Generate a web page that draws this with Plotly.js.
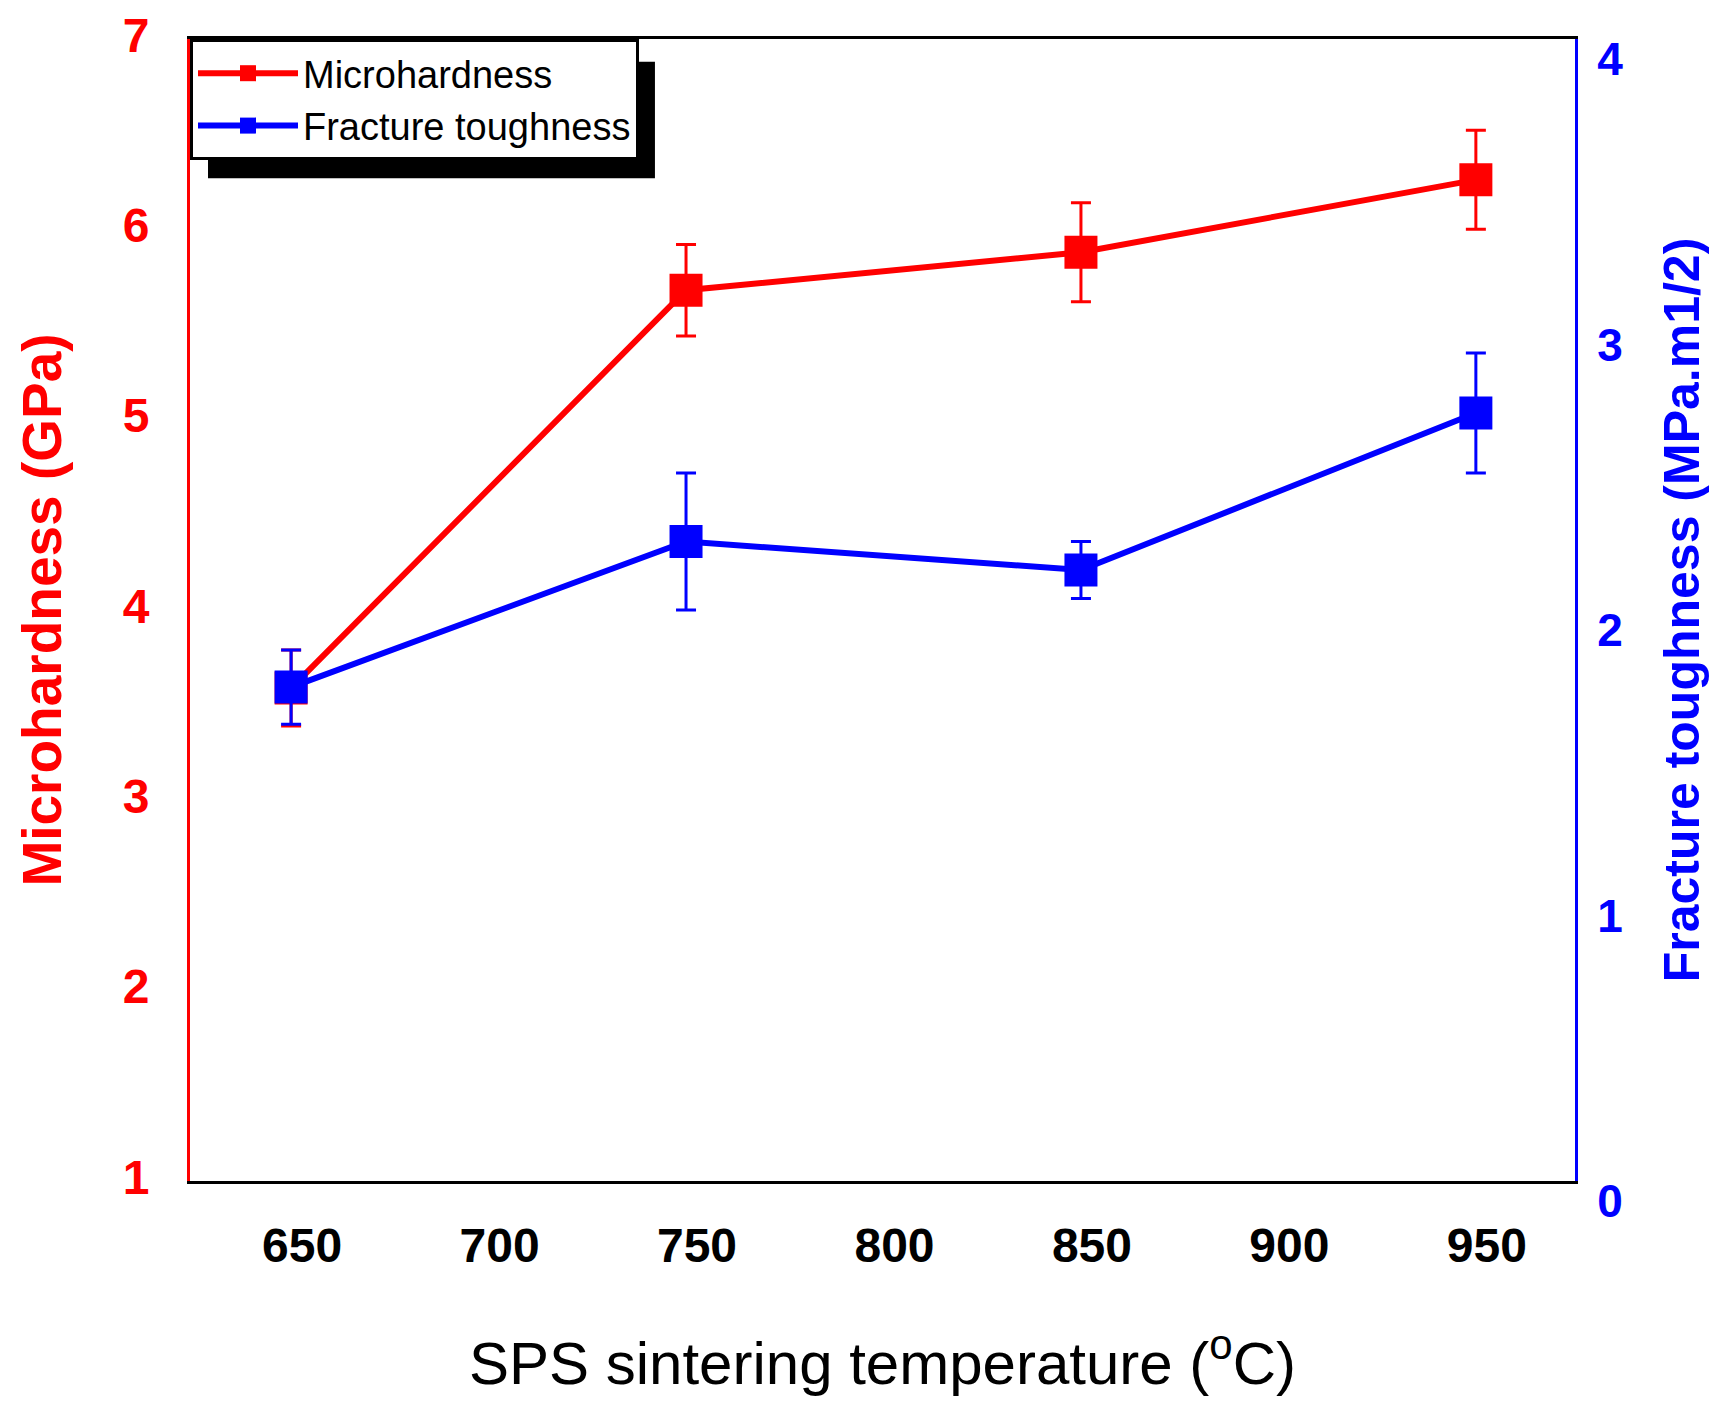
<!DOCTYPE html>
<html>
<head>
<meta charset="utf-8">
<script src="https://cdn.plot.ly/plotly-3.0.1.min.js"></script>
<style>
  html, body { margin: 0; padding: 0; background: #fff; }
  #chart { width: 1721px; height: 1416px; }
</style>
</head>
<body>
<div id="chart"></div>
<script>
    // values
    const temps = [650, 750, 850, 950];
    const hardness = [3.59, 5.68, 5.88, 6.26];
    const hardnessErr = [0.2, 0.24, 0.26, 0.26];
    const toughness = [1.73, 2.24, 2.14, 2.69];
    const toughnessErr = [0.13, 0.24, 0.10, 0.21];

    const FONT = "Liberation Sans, Arial, sans-serif";
    const RED = "#ff0000", BLUE = "#0000ff";

    const traces = [
        {
            x: temps, y: hardness, name: "Microhardness", type: "scatter", mode: "lines+markers",
            line: { color: RED, width: 6 },
            marker: { symbol: "square", size: 33, color: RED },
            error_y: { type: "data", array: hardnessErr, visible: true, color: RED, thickness: 3, width: 10 },
        },
        {
            x: temps, y: toughness, name: "Fracture toughness", type: "scatter", mode: "lines+markers",
            yaxis: "y2",
            line: { color: BLUE, width: 6 },
            marker: { symbol: "square", size: 33, color: BLUE },
            error_y: { type: "data", array: toughnessErr, visible: true, color: BLUE, thickness: 3, width: 10 },
        },
    ];

    const layout = {
        width: 1721, height: 1416,
        margin: { l: 190, r: 146, t: 39, b: 235 },
        paper_bgcolor: "#fff", plot_bgcolor: "#fff",
        font: { family: FONT, color: "#000" },
        showlegend: true,
        legend: {
            x: 0, y: 1, xanchor: "left", yanchor: "top",
            bgcolor: "#fff", bordercolor: "#000", borderwidth: 3,
            font: { size: 38, color: "#000" }, itemwidth: 100, tracegroupgap: 0,
        },
        xaxis: {
            range: [624.4, 975.1], tick0: 650, dtick: 50,
            showgrid: false, zeroline: false, ticks: "",
            showline: true, linecolor: "#000", linewidth: 3, mirror: true,
            tickfont: { size: 48, color: "#000", weight: "bold" },
            ticklabelstandoff: 20, ticklabelshift: 11,
            title: { text: "SPS sintering temperature (<sup>o</sup>C)", font: { size: 60, color: "#000" }, standoff: 72 },
        },
        yaxis: {
            range: [1, 7], dtick: 1,
            showgrid: false, zeroline: false, ticks: "",
            showline: true, linecolor: RED, linewidth: 3,
            tickfont: { size: 48, color: RED, weight: "bold" },
            ticklabelstandoff: 28, ticklabelshift: -4,
            title: { text: "Microhardness (GPa)", font: { size: 55, color: RED, weight: "bold" }, standoff: 44 },
        },
        yaxis2: {
            range: [0, 4.0001], tickvals: [0, 1, 2, 3, 4], overlaying: "y", side: "right",
            showgrid: false, zeroline: false, ticks: "",
            showline: true, linecolor: BLUE, linewidth: 3,
            tickfont: { size: 46, color: BLUE, weight: "bold" },
            ticklabelstandoff: 10, ticklabelshift: 20,
            title: { text: "Fracture toughness (MPa.m1/2)", font: { size: 50, color: BLUE, weight: "bold" }, standoff: 42 },
        },
        shapes: [
            // drop shadow behind the legend box
            { type: "rect", xref: "paper", yref: "paper", x0: 0.013, x1: 0.3357, y0: 0.878, y1: 0.98,
              fillcolor: "#000", line: { width: 0 }, layer: "above" },
        ],
    };

    Plotly.newPlot("chart", traces, layout, { displayModeBar: false, staticPlot: true });
</script>
</body>
</html>
